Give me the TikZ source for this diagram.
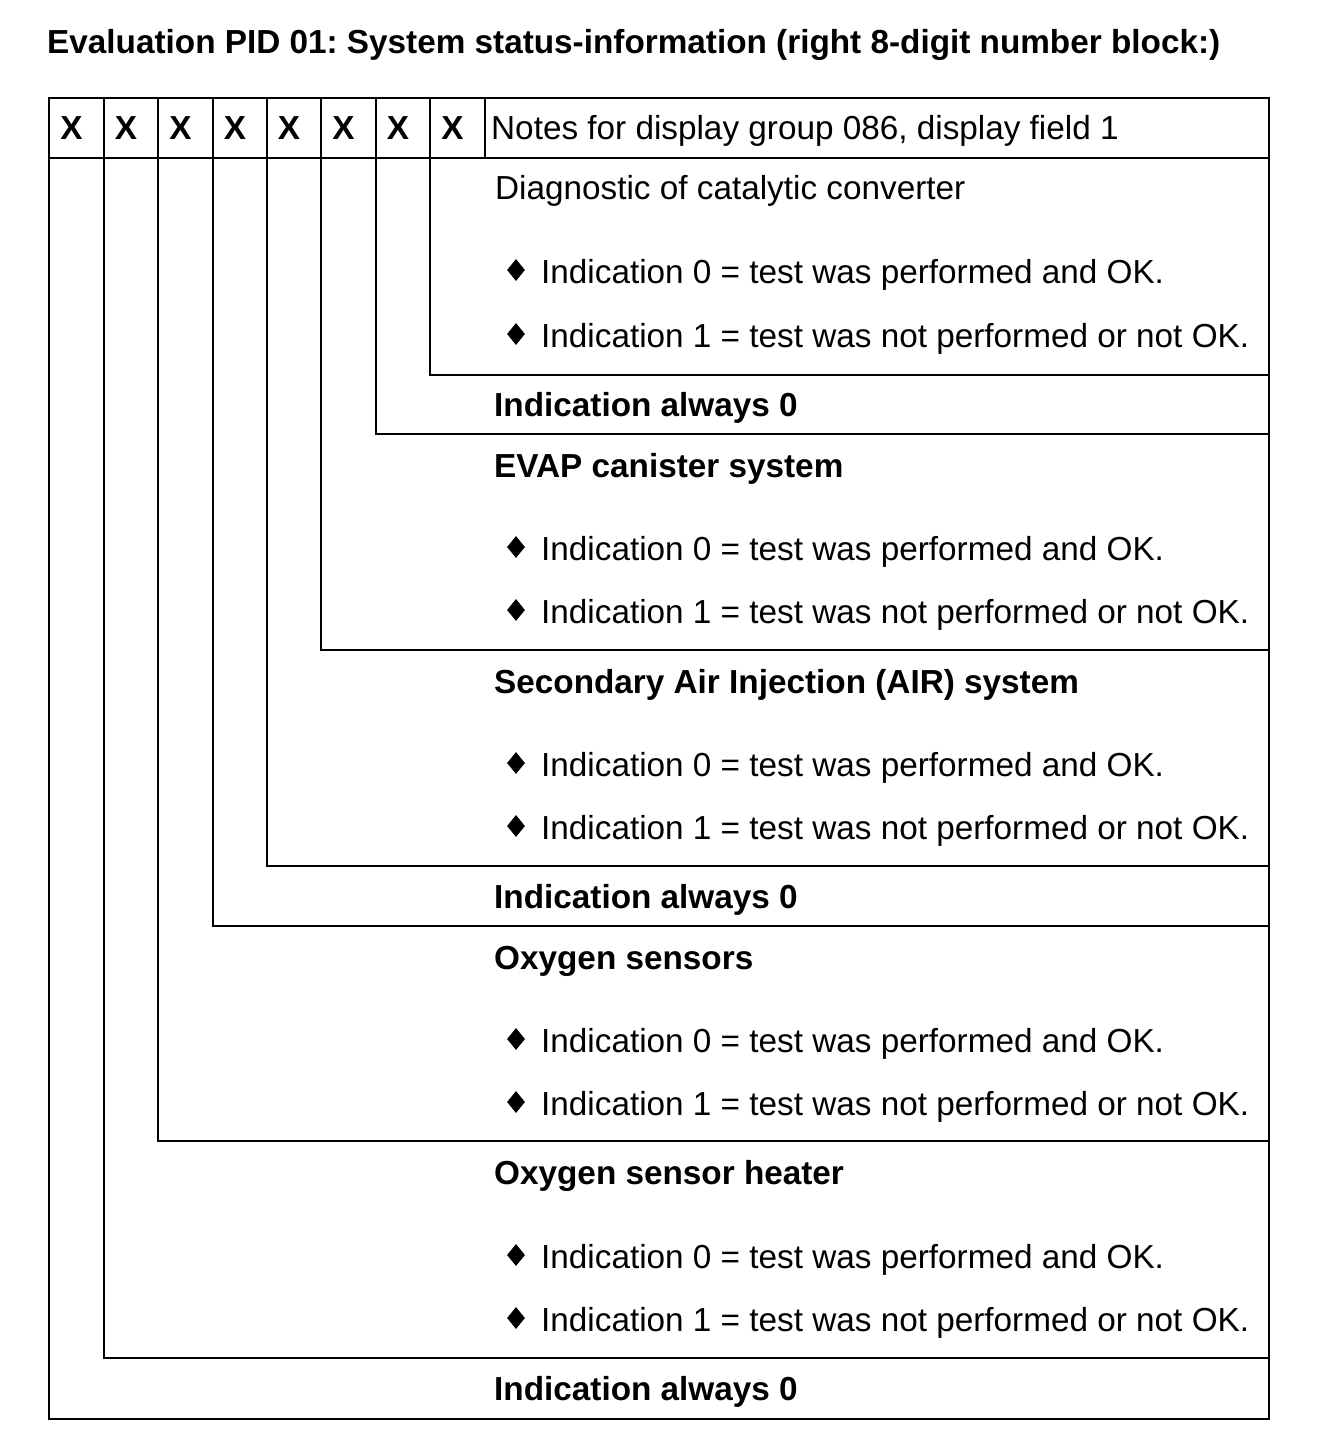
\documentclass[tikz,border=0pt]{standalone}
\usepackage{fontspec}
\setmainfont{Liberation Sans}
\usetikzlibrary{shapes.geometric}
\frenchspacing
\begin{document}
\begin{tikzpicture}[x=1pt,y=-1pt,
  line/.style={line width=2.8pt,line join=miter},
  txt/.style={anchor=west,inner sep=0pt,font=\fontsize{33.3}{40}\selectfont,text height=23.8pt,text depth=0pt},
  btxt/.style={txt,font=\fontsize{33.3}{40}\selectfont\bfseries},
  xlab/.style={inner sep=0pt,font=\fontsize{33.3}{40}\selectfont\bfseries,text height=23.8pt,text depth=0pt},
  bul/.style={diamond,fill=black,inner sep=0pt,minimum width=18pt,minimum height=22pt}
]
\useasboundingbox (0,0) rectangle (1344,1436);
% title
\node[btxt] (title) at (47,42) {Evaluation PID 01: System status-information (right 8-digit number block:)};
% frame
\draw[line] (49,98) rectangle (1269,1419);
\draw[line] (49,158) -- (1269,158);
\draw[line] (485,98) -- (485,158);
\foreach \xx/\yy in {104/1358,158/1141,213/926,267/866,321/650,376/434,430/375}{
  \draw[line] (\xx,98) -- (\xx,\yy) -- (1269,\yy);
}
% X labels
\foreach \xa/\xb [count=\i] in {49/104,104/158,158/213,213/267,267/321,321/376,376/430,430/485}{
  \node[xlab] (x\i) at ({(\xa+\xb)/2-5},128) {X};
}
\node[txt] (notes) at (491,128) {Notes for display group 086, display field 1};
\node[txt] (h1) at (495,188) {Diagnostic of catalytic converter};
\node[btxt] (h2) at (494,405) {Indication always 0};
\node[btxt] (h3) at (494,466) {EVAP canister system};
\node[btxt] (h4) at (494,682) {Secondary Air Injection (AIR) system};
\node[btxt] (h5) at (494,897) {Indication always 0};
\node[btxt] (h6) at (494,958) {Oxygen sensors};
\node[btxt] (h7) at (494,1173) {Oxygen sensor heater};
\node[btxt] (h8) at (494,1389) {Indication always 0};
% bullets
\foreach \ya/\yb [count=\j] in {272/336,549/612,765/828,1041/1104,1257/1320}{
  \node[bul] (ba\j) at (516,\ya-2) {};
  \node[txt] (ta\j) at (541,\ya) {Indication 0 = test was performed and OK.};
  \node[bul] (bb\j) at (516,\yb-2) {};
  \node[txt] (tb\j) at (541,\yb) {Indication 1 = test was not performed or not OK.};
}
\end{tikzpicture}
\end{document}
